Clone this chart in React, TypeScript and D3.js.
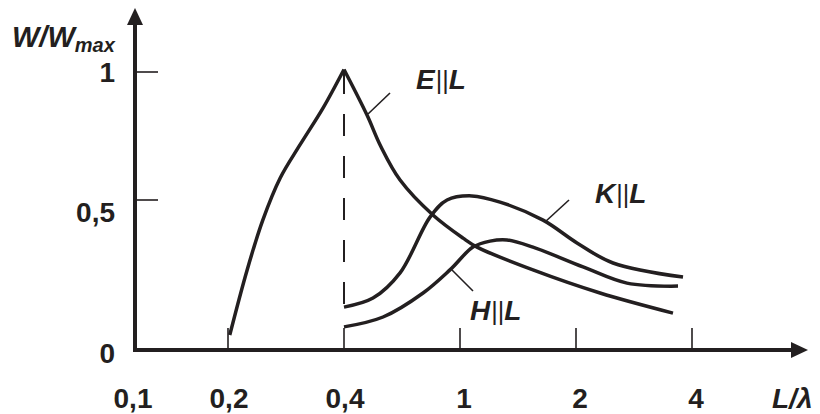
import React from "react";
import { scaleLinear, line, curveCatmullRom } from "d3";

// x ticks (L/lambda) and their labels
const xTicks = [0.1, 0.2, 0.4, 1, 2, 4];
const xTickLabels = ["0,1", "0,2", "0,4", "1", "2", "4"];
// y ticks (W/Wmax)
const yTicks = [0, 0.5, 1];
const yTickLabels = ["0", "0,5", "1"];

// E||L, rising branch and falling branch (sharp peak at 0.4)
const eRise: [number, number][] = [
  [0.203, 0.05],
  [0.233, 0.267],
  [0.26, 0.433],
  [0.29, 0.586],
  [0.324, 0.715],
  [0.364, 0.86],
  [0.4, 1.01],
];
const eFall: [number, number][] = [
  [0.4, 1.01],
  [0.519, 0.832],
  [0.59, 0.71],
  [0.69, 0.578],
  [0.86, 0.45],
  [1.026, 0.373],
  [1.147, 0.343],
  [1.629, 0.267],
  [2.414, 0.19],
  [3.672, 0.123],
];
// K||L
const kCurve: [number, number][] = [
  [0.4, 0.143],
  [0.55, 0.173],
  [0.69, 0.257],
  [0.845, 0.443],
  [0.933, 0.5],
  [1.103, 0.516],
  [1.345, 0.493],
  [1.716, 0.433],
  [2.017, 0.357],
  [2.638, 0.29],
  [3.845, 0.243],
];
// H||L
const hCurve: [number, number][] = [
  [0.4, 0.077],
  [0.602, 0.11],
  [0.809, 0.19],
  [0.948, 0.267],
  [1.112, 0.343],
  [1.259, 0.363],
  [1.405, 0.367],
  [1.629, 0.343],
  [2.121, 0.277],
  [2.879, 0.223],
  [3.759, 0.213],
];

const ink = "#231f20";
const font = "'Liberation Sans', Arial, sans-serif";

export default function App() {
  // schematic axes: ticks are evenly laid out, so piecewise scales
  const x = scaleLinear().domain(xTicks).range([135, 228, 344, 460, 576, 692]);
  const y = scaleLinear().domain(yTicks).range([350, 200, 72]);

  const path = line<[number, number]>()
    .x((d) => x(d[0]))
    .y((d) => y(d[1]))
    .curve(curveCatmullRom.alpha(0.5));

  const x0 = x(0.1);
  const y0 = y(0);

  return (
    <div style={{ position: "absolute", left: 0, top: 0 }}>
      <svg width={820} height={414} style={{ background: "white", display: "block" }}>
        {/* axes */}
        <line x1={x0} y1={y0 + 2} x2={x0} y2={20} stroke={ink} strokeWidth={4} />
        <polygon points={`${x0},8 ${x0 - 8},25 ${x0 + 8},25`} fill={ink} />
        <line x1={x0 - 2} y1={y0} x2={795} y2={y0} stroke={ink} strokeWidth={4} />
        <polygon points={`808,${y0} 791,${y0 - 8} 791,${y0 + 8}`} fill={ink} />

        {/* y ticks */}
        {yTicks.slice(1).map((t) => (
          <line key={t} x1={x0} x2={x0 + 23} y1={y(t)} y2={y(t)} stroke={ink} strokeWidth={1.6} />
        ))}
        {yTicks.map((t, i) => (
          <text
            key={t}
            x={115}
            y={y(t) + (t === 0 ? 13 : t === 1 ? 10 : 22)}
            textAnchor="end"
            fontFamily={font}
            fontWeight="bold"
            fontSize={28}
            fill={ink}
          >
            {yTickLabels[i]}
          </text>
        ))}

        {/* x ticks */}
        {xTicks.slice(1).map((t) => (
          <line key={t} x1={x(t)} x2={x(t)} y1={y0} y2={y0 - 22} stroke={ink} strokeWidth={1.6} />
        ))}
        {xTicks.map((t, i) => (
          <text
            key={t}
            x={x(t) + (t >= 1 ? 4 : t === 0.1 ? -2 : 1)}
            y={408}
            textAnchor="middle"
            fontFamily={font}
            fontWeight="bold"
            fontSize={28}
            fill={ink}
          >
            {xTickLabels[i]}
          </text>
        ))}

        {/* axis titles */}
        <text x={12} y={47} fontFamily={font} fontWeight="bold" fontStyle="italic" fontSize={29} fill={ink}>
          W/W
          <tspan fontSize={20} dy={5}>max</tspan>
        </text>
        <text x={772} y={408} fontFamily={font} fontWeight="bold" fontStyle="italic" fontSize={28} fill={ink}>
          L/λ
        </text>

        {/* dashed guide at the peak */}
        <line
          x1={x(0.4)}
          x2={x(0.4)}
          y1={y(1)}
          y2={y(kCurve[0][1])}
          stroke={ink}
          strokeWidth={2}
          strokeDasharray="22 20"
        />

        {/* curves */}
        <path d={path(eRise) ?? ""} fill="none" stroke={ink} strokeWidth={3.5} />
        <path d={path(eFall) ?? ""} fill="none" stroke={ink} strokeWidth={3.5} />
        <path d={path(kCurve) ?? ""} fill="none" stroke={ink} strokeWidth={3.5} />
        <path d={path(hCurve) ?? ""} fill="none" stroke={ink} strokeWidth={3.5} />

        {/* leader lines */}
        <line x1={368} y1={114} x2={390} y2={93} stroke={ink} strokeWidth={1.6} />
        <line x1={545} y1={222} x2={569} y2={200} stroke={ink} strokeWidth={1.6} />
        <line x1={452} y1={270} x2={473} y2={291} stroke={ink} strokeWidth={1.6} />

        {/* curve labels */}
        {[
          { n: "E", tx: 416, ty: 89 },
          { n: "K", tx: 595, ty: 203 },
          { n: "H", tx: 470, ty: 320 },
        ].map((l) => (
          <text key={l.n} x={l.tx} y={l.ty} fontFamily={font} fontWeight="bold" fontStyle="italic" fontSize={28} fill={ink}>
            {l.n}
            <tspan fontWeight="normal" fontStyle="normal" fontSize={25} dx={1}>||</tspan>
            L
          </text>
        ))}
      </svg>
    </div>
  );
}
